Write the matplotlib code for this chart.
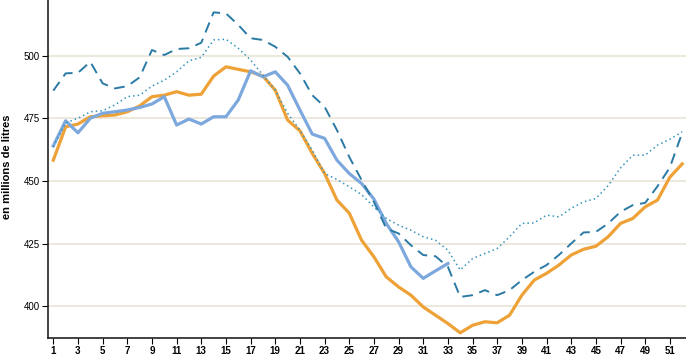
import matplotlib
matplotlib.use("Agg")
import matplotlib.pyplot as plt
import numpy as np

plt.rcParams["font.family"] = ["Liberation Sans", "DejaVu Sans"]

weeks = np.arange(1, 53)

# orange, solid
orange = [458.3, 471.6, 472.7, 475.6, 476.0, 476.3, 477.6, 479.9, 483.6, 484.2,
          485.6, 484.2, 484.6, 491.8, 495.5, 494.5, 493.5, 491.8, 486.2, 474.3,
          470.0, 461.0, 453.0, 442.4, 437.2, 426.4, 419.8, 411.8, 407.8, 404.5,
          399.8, 396.5, 393.2, 389.5, 392.5, 393.9, 393.5, 396.5, 404.5, 410.5,
          413.2, 416.5, 420.5, 422.8, 424.0, 427.8, 433.1, 435.1, 439.7, 442.4,
          451.5, 456.8]

# light blue, solid (weeks 1-33)
blue = [464.0, 474.0, 469.2, 475.0, 477.0, 477.6, 478.3, 479.3, 480.7, 483.6,
        472.3, 474.7, 472.7, 475.6, 475.6, 482.3, 493.9, 491.5, 493.5, 488.2,
        478.3, 468.7, 467.0, 458.3, 453.0, 449.0, 442.8, 433.1, 425.8, 415.8,
        411.2, 414.2, 417.1]

# dark teal, dashed
dashed = [486.0, 492.9, 493.1, 497.5, 488.9, 486.9, 487.8, 491.3, 502.2, 500.2,
          502.6, 502.9, 505.1, 517.2, 516.8, 512.2, 506.9, 506.2, 503.5, 499.5,
          492.9, 484.2, 479.6, 470.3, 459.6, 450.4, 441.7, 431.1, 429.1, 424.4,
          420.5, 420.0, 415.8, 403.8, 404.5, 406.5, 404.5, 406.5, 410.5, 413.8,
          416.5, 420.5, 425.1, 429.5, 429.7, 433.1, 437.7, 440.4, 441.3, 447.9,
          455.4, 469.2]

# teal, dotted
dotted = [463.6, 473.2, 475.0, 477.6, 478.0, 480.3, 483.6, 484.2, 487.8, 490.2,
          493.5, 497.9, 499.3, 506.2, 506.5, 502.9, 498.2, 492.2, 486.2, 477.0,
          470.3, 462.3, 453.0, 450.6, 447.7, 444.6, 439.7, 435.1, 432.4, 430.4,
          427.8, 426.4, 422.4, 414.5, 419.1, 421.1, 423.1, 427.8, 433.1, 433.3,
          436.4, 435.7, 439.1, 441.7, 443.0, 448.2, 455.2, 460.3, 460.3, 464.3,
          466.6, 469.6]

yticks = [400, 425, 450, 475, 500]
xticks = list(range(1, 52, 2))

fig = plt.figure(figsize=(6.86, 3.63), dpi=100)
ax = fig.add_axes([0.0704, 0.0689, 0.9296, 0.9311])

for y in yticks:
    ax.axhline(y, color="#E9E5D6", lw=1.2, zorder=0)

ax.plot(weeks, orange, color="#EEA136", lw=2.3, solid_joinstyle="round", zorder=2)
ax.plot(weeks[:len(blue)], blue, color="#7DA8DE", lw=2.3, solid_joinstyle="round", zorder=3)
ax.plot(weeks, dotted, color="#3794BC", lw=1.1, ls=(0, (1, 2)), zorder=4)
ax.plot(weeks, dashed, color="#2A7AA5", lw=1.4, ls=(0, (5.5, 3.5)), zorder=5)

ax.set_xlim(0.594, 52.31)
ax.set_ylim(387.44, 522.13)
ax.set_yticks(yticks)
ax.set_xticks(xticks)
ax.tick_params(axis="y", length=4, width=0.8, pad=2, labelsize=7)
ax.tick_params(axis="x", length=4, width=0.8, pad=2, labelsize=7)
for lab in ax.get_xticklabels():
    lab.set_fontweight("bold")

for side in ("top", "right"):
    ax.spines[side].set_visible(False)
for side in ("left", "bottom"):
    ax.spines[side].set_linewidth(1.2)
    ax.spines[side].set_color("#222222")

fig.text(7.5 / 686, 0.54, "en millions de litres", rotation=90, ha="center", va="center",
         fontsize=8, fontweight="bold")

fig.savefig("out.png", dpi=100)
